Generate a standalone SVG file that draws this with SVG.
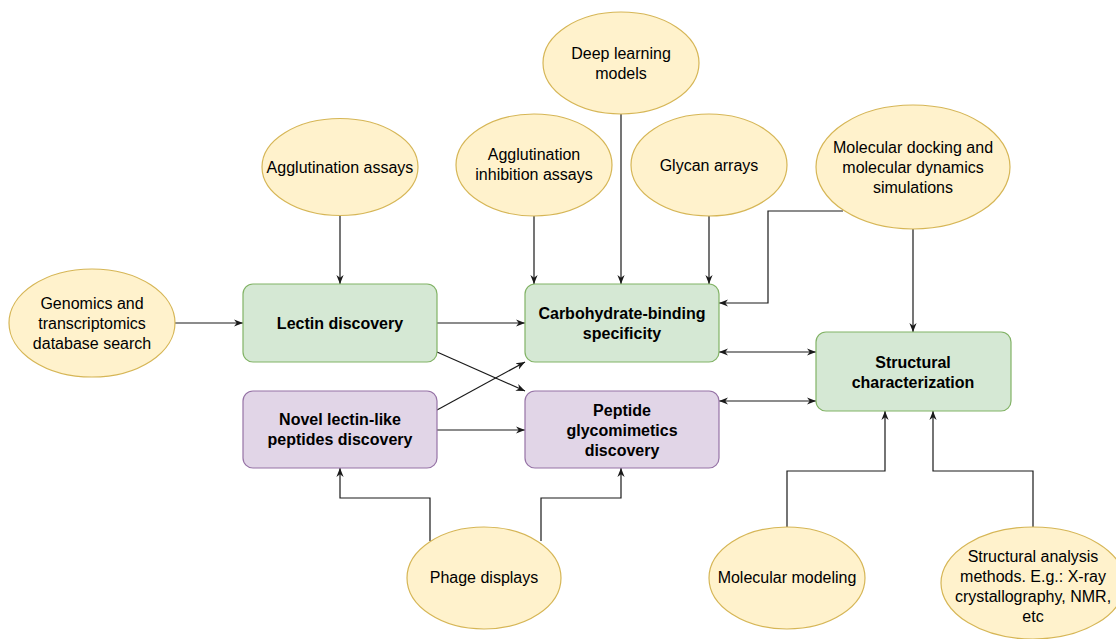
<svg xmlns="http://www.w3.org/2000/svg" width="1116" height="639" viewBox="0 0 1116 639">
<style>
.ell{fill:#fff2cc;stroke:#d6b656;stroke-width:1.2}
.grn{fill:#d5e8d4;stroke:#82b366;stroke-width:1.2}
.pur{fill:#e1d5e7;stroke:#9673a6;stroke-width:1.2}
text{font-family:"Liberation Sans",Arial,Helvetica,sans-serif;font-size:16px;fill:#000;text-anchor:middle}
.b{font-weight:bold}
.c{fill:none;stroke:#1a1a1a;stroke-width:1.2}
</style>
<defs>
<marker id="ah" viewBox="0 0 10 10" refX="10" refY="5" markerWidth="9" markerHeight="9" markerUnits="userSpaceOnUse" orient="auto-start-reverse">
<path d="M0,1 L10,5 L0,9 L3,5 z" fill="#1a1a1a"/>
</marker>
</defs>
<rect width="1116" height="639" fill="#fff"/>
<g id="connectors">
<path class="c" d="M340,216 V284" marker-end="url(#ah)"/>
<path class="c" d="M534,216 V284" marker-end="url(#ah)"/>
<path class="c" d="M621,114 V284" marker-end="url(#ah)"/>
<path class="c" d="M709,216 V284" marker-end="url(#ah)"/>
<path class="c" d="M843,211 H768 V303 H719" marker-end="url(#ah)"/>
<path class="c" d="M913,229 V332" marker-end="url(#ah)"/>
<path class="c" d="M175,323 H243" marker-end="url(#ah)"/>
<path class="c" d="M437,323 H525" marker-end="url(#ah)"/>
<path class="c" d="M437,352 L525,391" marker-end="url(#ah)"/>
<path class="c" d="M437,410 L525,362" marker-end="url(#ah)"/>
<path class="c" d="M437,430 H525" marker-end="url(#ah)"/>
<path class="c" d="M719,352 H816" marker-start="url(#ah)" marker-end="url(#ah)"/>
<path class="c" d="M719,401 H816" marker-start="url(#ah)" marker-end="url(#ah)"/>
<path class="c" d="M430,541 V498 H340 V468" marker-end="url(#ah)"/>
<path class="c" d="M541,541 V498 H621 V468" marker-end="url(#ah)"/>
<path class="c" d="M787,527 V471 H885 V411" marker-end="url(#ah)"/>
<path class="c" d="M1033,527 V471 H933 V411" marker-end="url(#ah)"/>
</g>
<g id="deep-learning">
<ellipse class="ell" cx="621" cy="63" rx="78" ry="51"/>
<text x="621" y="58.5">Deep learning</text>
<text x="621" y="78.5">models</text>
</g>
<g id="agglutination">
<ellipse class="ell" cx="340" cy="167" rx="78" ry="48.5"/>
<text x="340" y="172.5">Agglutination assays</text>
</g>
<g id="agglutination-inhibition">
<ellipse class="ell" cx="534" cy="165" rx="78" ry="51"/>
<text x="534" y="159.5">Agglutination</text>
<text x="534" y="179.5">inhibition assays</text>
</g>
<g id="glycan">
<ellipse class="ell" cx="709" cy="165" rx="78" ry="51"/>
<text x="709" y="170.5">Glycan arrays</text>
</g>
<g id="docking">
<ellipse class="ell" cx="913" cy="167" rx="97" ry="62"/>
<text x="913" y="152.5">Molecular docking and</text>
<text x="913" y="172.5">molecular dynamics</text>
<text x="913" y="192.5">simulations</text>
</g>
<g id="genomics">
<ellipse class="ell" cx="92" cy="323" rx="83" ry="54"/>
<text x="92" y="308.5">Genomics and</text>
<text x="92" y="328.5">transcriptomics</text>
<text x="92" y="348.5">database search</text>
</g>
<g id="lectin">
<rect class="grn" x="243" y="284" width="194" height="78" rx="10"/>
<text class="b" x="340" y="328.5">Lectin discovery</text>
</g>
<g id="carb">
<rect class="grn" x="525" y="284" width="194" height="78" rx="10"/>
<text class="b" x="622" y="318.5">Carbohydrate-binding</text>
<text class="b" x="622" y="338.5">specificity</text>
</g>
<g id="novel">
<rect class="pur" x="243" y="391" width="194" height="77" rx="10"/>
<text class="b" x="340" y="424.5">Novel lectin-like</text>
<text class="b" x="340" y="444.5">peptides discovery</text>
</g>
<g id="peptide">
<rect class="pur" x="525" y="391" width="194" height="77" rx="10"/>
<text class="b" x="622" y="415.5">Peptide</text>
<text class="b" x="622" y="435.5">glycomimetics</text>
<text class="b" x="622" y="455.5">discovery</text>
</g>
<g id="structural">
<rect class="grn" x="816" y="332" width="195" height="79" rx="10"/>
<text class="b" x="913" y="367.5">Structural</text>
<text class="b" x="913" y="387.5">characterization</text>
</g>
<g id="phage">
<ellipse class="ell" cx="484" cy="578" rx="77" ry="51"/>
<text x="484" y="582.5">Phage displays</text>
</g>
<g id="modeling">
<ellipse class="ell" cx="787" cy="578" rx="78" ry="51"/>
<text x="787" y="582.5">Molecular modeling</text>
</g>
<g id="structural-analysis">
<ellipse class="ell" cx="1033" cy="583" rx="92" ry="56"/>
<text x="1033" y="561.5">Structural analysis</text>
<text x="1033" y="581.5">methods. E.g.: X-ray</text>
<text x="1033" y="601.5">crystallography, NMR,</text>
<text x="1033" y="621.5">etc</text>
</g>
</svg>
